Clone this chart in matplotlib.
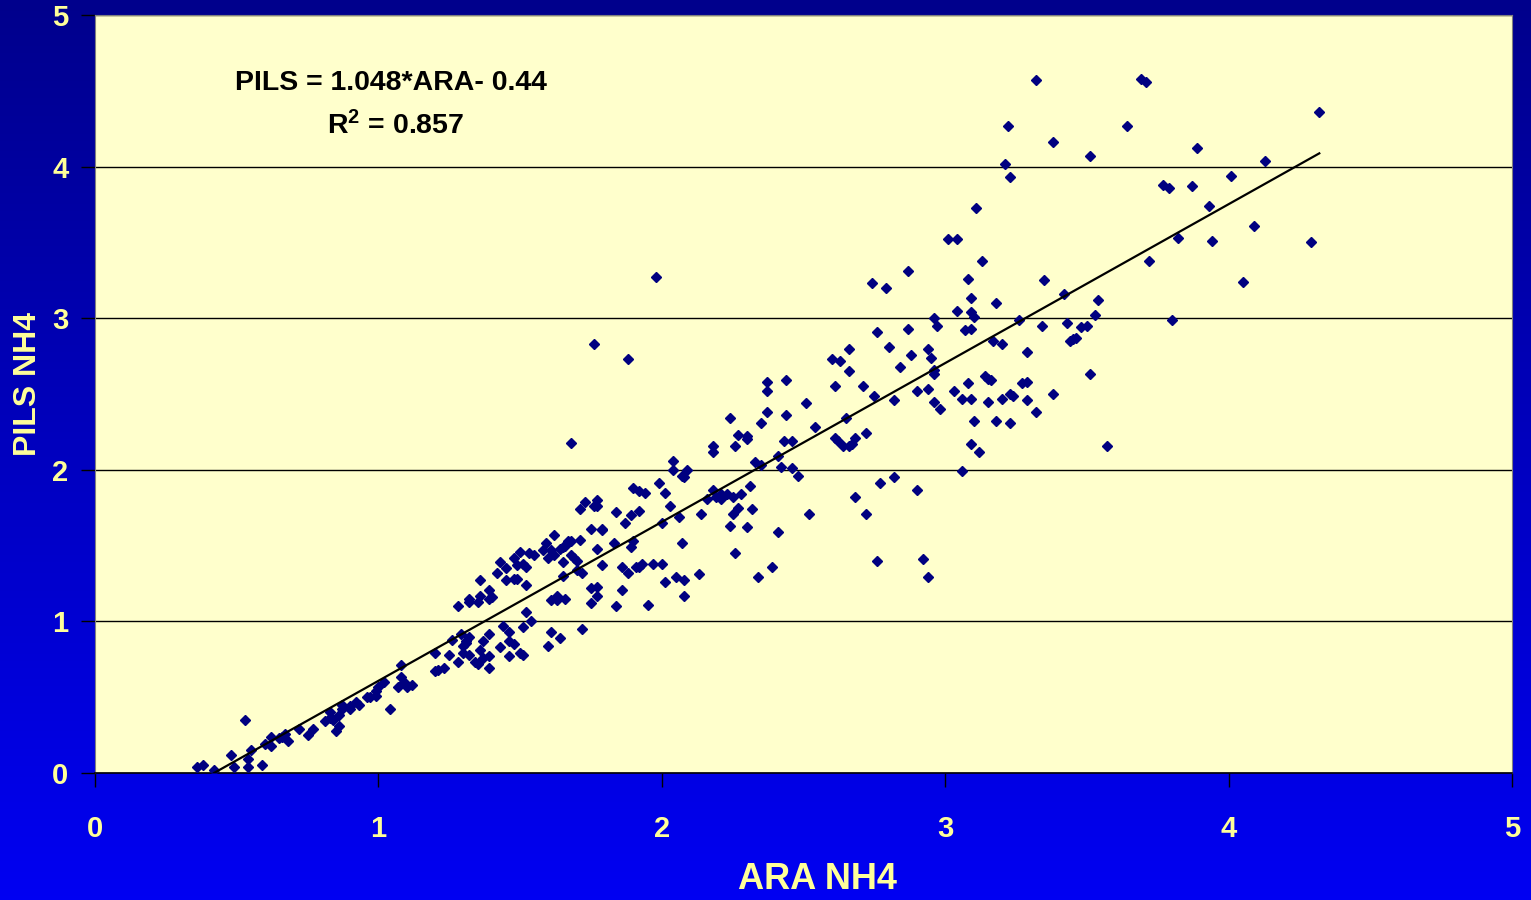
import numpy as np
import matplotlib.pyplot as plt
from matplotlib.colors import LinearSegmentedColormap

plt.rcParams['font.family'] = ['Liberation Sans', 'DejaVu Sans']
plt.rcParams['mathtext.fontset'] = 'custom'
plt.rcParams['mathtext.rm'] = 'Liberation Sans'
plt.rcParams['mathtext.bf'] = 'Liberation Sans:bold'

# ---- data, grouped by region -----------------------------------------------
ara_low = [0.36, 0.38, 0.42, 0.53, 0.48, 0.49, 0.54, 0.54, 0.59, 0.55,
           0.60, 0.62, 0.62, 0.65, 0.66, 0.67, 0.68, 0.72, 0.75, 0.77,
           0.81, 0.83, 0.83, 0.84, 0.85, 0.86, 0.86, 0.87, 0.87, 0.90,
           0.90, 0.92, 0.93, 0.96, 0.97, 0.99, 0.99, 1.00, 1.02, 1.04]
pils_low = [0.04, 0.05, 0.02, 0.35, 0.12, 0.04, 0.09, 0.04, 0.05, 0.15,
            0.19, 0.18, 0.24, 0.23, 0.24, 0.26, 0.21, 0.29, 0.25, 0.29,
            0.34, 0.40, 0.36, 0.35, 0.28, 0.31, 0.38, 0.42, 0.45, 0.44,
            0.42, 0.47, 0.45, 0.50, 0.50, 0.51, 0.54, 0.57, 0.60, 0.42]

ara_mid = [1.08, 1.08, 1.09, 1.07, 1.10, 1.12, 1.20, 1.20, 1.21, 1.23,
           1.25, 1.26, 1.28, 1.28, 1.29, 1.30, 1.31, 1.31, 1.32, 1.30,
           1.32, 1.32, 1.32, 1.35, 1.36, 1.36, 1.34, 1.35, 1.36, 1.37,
           1.37, 1.39, 1.39, 1.40, 1.39, 1.39, 1.39, 1.42, 1.43, 1.45,
           1.45, 1.43, 1.44, 1.46, 1.46, 1.46, 1.48, 1.48, 1.49, 1.48,
           1.50, 1.49, 1.51, 1.52, 1.52, 1.50, 1.51, 1.51, 1.52, 1.54,
           1.53, 1.55, 1.58, 1.59, 1.60, 1.61, 1.62, 1.62, 1.61, 1.63,
           1.63, 1.61, 1.60, 1.64, 1.64, 1.65, 1.66, 1.67, 1.68, 1.65,
           1.65, 1.66, 1.68, 1.69, 1.70, 1.71, 1.73, 1.76, 1.77, 1.77,
           1.71, 1.70, 1.72, 1.72, 1.75, 1.75, 1.77, 1.75, 1.77, 1.77,
           1.79, 1.79, 1.79, 1.83, 1.84, 1.84, 1.86, 1.87, 1.86, 1.88,
           1.89, 1.89, 1.90, 1.92, 1.90, 1.91, 1.92, 1.92]
pils_mid = [0.71, 0.63, 0.60, 0.57, 0.57, 0.58, 0.79, 0.67, 0.68, 0.69,
            0.78, 0.88, 0.73, 1.10, 0.92, 0.84, 0.86, 0.87, 0.90, 0.79,
            0.78, 1.13, 1.15, 1.13, 1.17, 1.27, 0.73, 0.72, 0.81, 0.87,
            0.76, 1.21, 1.15, 1.16, 0.92, 0.77, 0.69, 1.32, 1.39, 1.35,
            1.27, 0.83, 0.97, 0.93, 0.87, 0.77, 0.85, 1.28, 1.28, 1.42,
            1.46, 1.37, 1.38, 1.36, 1.24, 0.79, 0.78, 0.96, 1.06, 1.00,
            1.45, 1.44, 1.47, 1.52, 1.42, 1.47, 1.44, 1.57, 1.14, 1.17,
            1.14, 0.93, 0.84, 0.89, 1.48, 1.49, 1.50, 1.53, 1.53, 1.39,
            1.30, 1.15, 1.44, 1.42, 1.40, 1.74, 1.79, 1.76, 1.76, 1.80,
            1.54, 1.34, 1.32, 0.95, 1.61, 1.22, 1.23, 1.12, 1.17, 1.48,
            1.61, 1.60, 1.37, 1.52, 1.72, 1.10, 1.21, 1.65, 1.36, 1.32,
            1.49, 1.70, 1.88, 1.86, 1.53, 1.36, 1.36, 1.73]

ara_two = [2.61, 2.65, 2.61, 2.62, 2.64, 2.66, 2.67, 2.68, 2.04, 2.04,
           2.07, 2.08, 2.09, 2.48, 1.99, 1.94, 2.01, 2.18, 2.16, 2.19,
           2.21, 2.21, 2.23, 2.25, 2.28, 2.31, 2.03, 2.06, 2.14, 2.27,
           2.25, 2.32, 2.24, 2.30, 2.52, 2.68, 2.00, 2.07, 2.41, 1.93,
           1.97, 2.00, 2.26, 2.39, 2.01, 2.05, 2.08, 2.13, 2.34, 2.08,
           1.95,
           1.98, 1.76, 1.88, 1.68, 2.18, 2.18, 2.24, 2.26, 2.27, 2.30,
           2.30, 2.35, 2.37, 2.37, 2.37, 2.44, 2.44, 2.43, 2.46, 2.51,
           2.54, 2.33, 2.35, 2.41, 2.42, 2.46]
pils_two = [2.55, 2.34, 2.21, 2.19, 2.16, 2.16, 2.17, 2.21, 2.06, 2.00,
            1.96, 1.95, 2.00, 1.96, 1.91, 1.85, 1.85, 1.87, 1.81, 1.82,
            1.81, 1.84, 1.84, 1.82, 1.84, 1.89, 1.76, 1.69, 1.71, 1.75,
            1.71, 1.74, 1.63, 1.62, 1.71, 1.82, 1.65, 1.52, 1.59, 1.38,
            1.38, 1.38, 1.45, 1.36, 1.26, 1.29, 1.27, 1.31, 1.29, 1.17,
            1.11,
            3.27, 2.83, 2.73, 2.18, 2.16, 2.12, 2.34, 2.16, 2.23, 2.22,
            2.20, 2.31, 2.58, 2.52, 2.38, 2.59, 2.36, 2.19, 2.19, 2.44,
            2.28, 2.05, 2.03, 2.09, 2.02, 2.01]

ara_three = [3.13, 2.87, 2.74, 2.79, 3.08, 3.35, 3.42, 3.09, 3.18, 3.04,
             3.09, 3.10, 2.96, 3.26, 3.34, 3.43, 2.97, 2.76, 2.87, 3.07,
             3.09, 3.44, 3.45, 3.46, 2.66, 2.80, 2.94, 3.17, 3.20, 2.60,
             2.63, 2.88, 2.95, 3.29, 2.84, 2.66, 2.96, 2.96, 2.71, 3.08,
             3.14, 3.15, 3.16, 3.27, 3.29, 2.75, 2.90, 2.94, 3.03, 3.38,
             2.82, 2.96, 2.98, 3.06, 3.09, 3.15, 3.20, 3.23, 3.24, 3.29,
             3.32, 3.10, 3.18, 3.23, 2.72, 3.09, 3.12, 3.06, 2.77, 2.82,
             2.90, 2.72, 2.76, 2.92, 2.94]
pils_three = [3.38, 3.31, 3.23, 3.20, 3.26, 3.25, 3.16, 3.13, 3.10, 3.05,
              3.04, 3.01, 3.00, 2.99, 2.95, 2.97, 2.95, 2.91, 2.93, 2.92,
              2.93, 2.85, 2.86, 2.87, 2.80, 2.81, 2.80, 2.85, 2.83, 2.73,
              2.72, 2.76, 2.74, 2.78, 2.68, 2.65, 2.66, 2.63, 2.55, 2.57,
              2.62, 2.60, 2.59, 2.57, 2.58, 2.49, 2.52, 2.53, 2.52, 2.50,
              2.46, 2.45, 2.40, 2.47, 2.47, 2.45, 2.47, 2.50, 2.49, 2.46,
              2.38, 2.32, 2.32, 2.31, 2.24, 2.17, 2.12, 1.99, 1.91, 1.95,
              1.87, 1.71, 1.40, 1.41, 1.29]

ara_high = [3.69, 3.71, 3.64, 4.32, 3.51, 3.89, 4.13, 4.01, 3.77, 3.79,
            3.87, 3.93, 4.09, 3.82, 3.94, 4.29, 3.72, 4.05, 3.54, 3.53,
            3.48, 3.50, 3.80, 3.51, 3.57,
            3.32, 3.22, 3.38, 3.21, 3.23, 3.11, 3.01, 3.04]
pils_high = [4.58, 4.56, 4.27, 4.36, 4.07, 4.12, 4.04, 3.94, 3.88, 3.86,
             3.87, 3.74, 3.61, 3.53, 3.51, 3.50, 3.38, 3.24, 3.12, 3.02,
             2.94, 2.95, 2.99, 2.63, 2.16,
             4.57, 4.27, 4.16, 4.02, 3.93, 3.73, 3.52, 3.52]

# regression reported on the slide
slope, intercept = 1.048, -0.44
fit_range = [0.42, 4.32]

ara = np.array(ara_low + ara_mid + ara_two + ara_three + ara_high)
pils = np.array(pils_low + pils_mid + pils_two + pils_three + pils_high)

W, H = 1531, 900
fig = plt.figure(figsize=(W / 100, H / 100), dpi=100)

# slide background: vertical blue gradient
bg = fig.add_axes([0, 0, 1, 1], zorder=0)
grad = np.linspace(0, 1, 256).reshape(-1, 1)
cmap = LinearSegmentedColormap.from_list('slide', ['#00008C', '#0000F2'])
bg.imshow(grad, aspect='auto', cmap=cmap, extent=[0, 1, 0, 1], origin='upper')
bg.axis('off')

ax = fig.add_axes([95 / W, 127 / H, 1417 / W, 758 / H], zorder=1)
ax.set_facecolor('#FFFFCC')

ax.plot(ara, pils, ls='none', marker='D', ms=5, color='#000080',
        mec='#000080', zorder=3)
fx = np.array(fit_range)
ax.plot(fx, slope * fx + intercept, color='black', lw=1.6, zorder=4)

ax.set_xlim(0, 5)
ax.set_ylim(0, 5)
ax.set_xticks(range(6))
ax.set_yticks(range(6))
ax.yaxis.grid(True, color='black', lw=1.0, zorder=1)
ax.set_axisbelow(True)

for side in ['top', 'left', 'right']:
    ax.spines[side].set_color('#808080')
ax.spines['bottom'].set_color('black')
ax.spines['bottom'].set_linewidth(1.2)

yellow = '#FFFF99'
ax.tick_params(axis='both', direction='out', length=10, width=1,
               color='black', labelcolor=yellow, labelsize=21)
ax.tick_params(axis='x', pad=20)
ax.tick_params(axis='y', pad=9)
for lbl in ax.get_xticklabels() + ax.get_yticklabels():
    lbl.set_fontweight('bold')

ax.set_xlabel('ARA NH4', color=yellow, fontsize=26, fontweight='bold',
              va='center', ha='center')
ax.set_ylabel('PILS NH4', color=yellow, fontsize=23, fontweight='bold',
              va='center', ha='center')
ax.xaxis.set_label_coords(0.510, -0.141)
ax.yaxis.set_label_coords(-0.047, 0.513)

ax.text(1.044, 4.55, 'PILS = 1.048*ARA- 0.44', ha='center', va='center',
        fontsize=20.5, fontweight='bold', color='black', zorder=5)
ax.text(1.06, 4.27, r'$\mathbf{R^{2}}$ = 0.857', ha='center', va='center',
        fontsize=20.5, fontweight='bold', color='black', zorder=5)

fig.savefig('out.png', dpi=100)
